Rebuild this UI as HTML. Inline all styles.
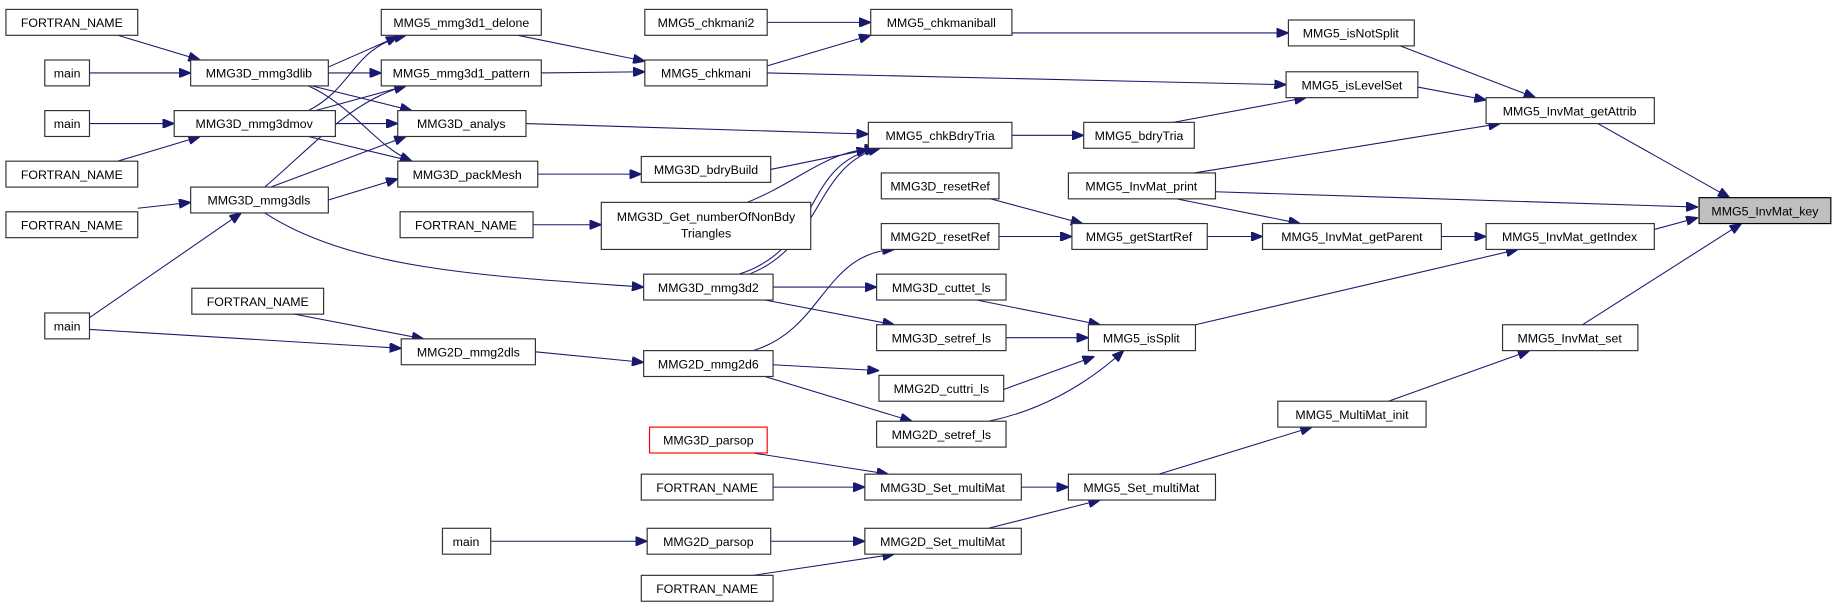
<!DOCTYPE html>
<html><head><meta charset="utf-8"><style>
html,body{margin:0;padding:0;background:#fff;width:1845px;height:611px;overflow:hidden}
svg{display:block}
text{font-family:"Liberation Sans",sans-serif;font-size:10.5px;fill:#000;text-anchor:middle}
rect{fill:#fff;stroke:#333;stroke-width:1}
path{fill:none;stroke:#191970;stroke-width:0.9}
</style></head><body>
<svg width="1845" height="611" viewBox="0 0 1568 519.3" xmlns="http://www.w3.org/2000/svg">
<defs><marker id="a" markerWidth="10" markerHeight="8" refX="10" refY="4" orient="auto" markerUnits="userSpaceOnUse"><polygon points="0,0 10,4 0,8" fill="#191970" stroke="#191970"/></marker></defs>
<g marker-end="url(#a)">
<path d="M100,30 L170,51"/>
<path d="M76,62 L162,62"/>
<path d="M76,105 L148,105"/>
<path d="M100,137 L170,116"/>
<path d="M117,177 L162,172"/>
<path d="M76,270 L205,181"/>
<path d="M76,280 L341,296"/>
<path d="M250,267 L360,288"/>
<path d="M279,57 L338,31"/>
<path d="M279,62 L324,62"/>
<path d="M265,73 L350,94"/>
<path d="M262,73 C300,90 320,125 350,137"/>
<path d="M262,94 C300,75 300,40 345,30"/>
<path d="M268,94 L345,73"/>
<path d="M285,105 L338,105"/>
<path d="M262,116 L350,137"/>
<path d="M225,159 C270,120 300,85 345,73"/>
<path d="M230,159 L345,116"/>
<path d="M279,170 L338,152"/>
<path d="M225,181 C300,230 420,235 547,244"/>
<path d="M440,30 L548,52"/>
<path d="M460,62 L548,61"/>
<path d="M652,19 L740,19"/>
<path d="M652,56 L740,30"/>
<path d="M652,62 L1093,72"/>
<path d="M447,105 L738,114"/>
<path d="M457,148 L545,148"/>
<path d="M655,144 L738,127"/>
<path d="M630,174 C680,155 700,128 745,126"/>
<path d="M628,233 C700,210 680,140 745,126"/>
<path d="M628,236 C700,215 690,140 748,126"/>
<path d="M453,191 L511,191"/>
<path d="M455,299 L547,308"/>
<path d="M657,244 L745,244"/>
<path d="M650,255 L760,276"/>
<path d="M657,310 L747,315"/>
<path d="M650,320 L775,358"/>
<path d="M640,298 C700,280 700,215 760,212"/>
<path d="M842,169 L920,190"/>
<path d="M849,201 L911,201"/>
<path d="M830,255 L935,276"/>
<path d="M855,287 L925,287"/>
<path d="M853,331 L930,303"/>
<path d="M840,358 C880,350 920,330 955,298"/>
<path d="M860,115 L921,115"/>
<path d="M997,104 L1110,83"/>
<path d="M860,28 L1095,28"/>
<path d="M1190,39 L1305,83"/>
<path d="M1205,74 L1263,85"/>
<path d="M1015,147 L1275,105"/>
<path d="M1033,163 L1443,176"/>
<path d="M1000,169 L1105,190"/>
<path d="M1026,201 L1073,201"/>
<path d="M1225,201 L1263,201"/>
<path d="M1016,276 L1290,212"/>
<path d="M1358,105 L1470,168"/>
<path d="M1406,195 L1443,185"/>
<path d="M1345,276 L1480,190"/>
<path d="M1180,341 L1300,298"/>
<path d="M985,403 L1115,363"/>
<path d="M640,385 L755,403"/>
<path d="M657,414 L735,414"/>
<path d="M868,414 L908,414"/>
<path d="M840,449 L935,425"/>
<path d="M417,460 L550,460"/>
<path d="M655,460 L735,460"/>
<path d="M640,489 L760,471"/>
</g>
<g>
<rect x="5" y="8" width="112" height="22"/><text x="61" y="23">FORTRAN_NAME</text>
<rect x="38" y="51" width="38" height="22"/><text x="57" y="66">main</text>
<rect x="38" y="94" width="38" height="22"/><text x="57" y="109">main</text>
<rect x="5" y="137" width="112" height="22"/><text x="61" y="152">FORTRAN_NAME</text>
<rect x="5" y="180" width="112" height="22"/><text x="61" y="195">FORTRAN_NAME</text>
<rect x="38" y="266" width="38" height="22"/><text x="57" y="281">main</text>
<rect x="162" y="51" width="117" height="22"/><text x="220" y="66">MMG3D_mmg3dlib</text>
<rect x="148" y="94" width="137" height="22"/><text x="216" y="109">MMG3D_mmg3dmov</text>
<rect x="162" y="159" width="117" height="22"/><text x="220" y="174">MMG3D_mmg3dls</text>
<rect x="163" y="245" width="112" height="22"/><text x="219" y="260">FORTRAN_NAME</text>
<rect x="341" y="288" width="114" height="22"/><text x="398" y="303">MMG2D_mmg2dls</text>
<rect x="324" y="8" width="136" height="22"/><text x="392" y="23">MMG5_mmg3d1_delone</text>
<rect x="324" y="51" width="136" height="22"/><text x="392" y="66">MMG5_mmg3d1_pattern</text>
<rect x="338" y="94" width="109" height="22"/><text x="392" y="109">MMG3D_analys</text>
<rect x="338" y="137" width="119" height="22"/><text x="397" y="152">MMG3D_packMesh</text>
<rect x="340" y="180" width="113" height="22"/><text x="396" y="195">FORTRAN_NAME</text>
<rect x="548" y="8" width="104" height="22"/><text x="600" y="23">MMG5_chkmani2</text>
<rect x="548" y="51" width="104" height="22"/><text x="600" y="66">MMG5_chkmani</text>
<rect x="545" y="133" width="110" height="22"/><text x="600" y="148">MMG3D_bdryBuild</text>
<rect x="511" y="172" width="178" height="40"/><text x="600" y="188">MMG3D_Get_numberOfNonBdy</text><text x="600" y="202">Triangles</text>
<rect x="547" y="233" width="110" height="22"/><text x="602" y="248">MMG3D_mmg3d2</text>
<rect x="547" y="298" width="110" height="22"/><text x="602" y="313">MMG2D_mmg2d6</text>
<rect x="552" y="363" width="100" height="22" style="stroke:#f00"/><text x="602" y="378">MMG3D_parsop</text>
<rect x="545" y="403" width="112" height="22"/><text x="601" y="418">FORTRAN_NAME</text>
<rect x="376" y="449" width="41" height="22"/><text x="396" y="464">main</text>
<rect x="550" y="449" width="105" height="22"/><text x="602" y="464">MMG2D_parsop</text>
<rect x="545" y="489" width="112" height="22"/><text x="601" y="504">FORTRAN_NAME</text>
<rect x="740" y="8" width="120" height="22"/><text x="800" y="23">MMG5_chkmaniball</text>
<rect x="738" y="104" width="122" height="22"/><text x="799" y="119">MMG5_chkBdryTria</text>
<rect x="749" y="147" width="100" height="22"/><text x="799" y="162">MMG3D_resetRef</text>
<rect x="749" y="190" width="100" height="22"/><text x="799" y="205">MMG2D_resetRef</text>
<rect x="745" y="233" width="110" height="22"/><text x="800" y="248">MMG3D_cuttet_ls</text>
<rect x="745" y="276" width="110" height="22"/><text x="800" y="291">MMG3D_setref_ls</text>
<rect x="747" y="319" width="106" height="22"/><text x="800" y="334">MMG2D_cuttri_ls</text>
<rect x="745" y="358" width="110" height="22"/><text x="800" y="373">MMG2D_setref_ls</text>
<rect x="735" y="403" width="133" height="22"/><text x="801" y="418">MMG3D_Set_multiMat</text>
<rect x="735" y="449" width="133" height="22"/><text x="801" y="464">MMG2D_Set_multiMat</text>
<rect x="921" y="104" width="94" height="22"/><text x="968" y="119">MMG5_bdryTria</text>
<rect x="908" y="147" width="125" height="22"/><text x="970" y="162">MMG5_InvMat_print</text>
<rect x="911" y="190" width="115" height="22"/><text x="968" y="205">MMG5_getStartRef</text>
<rect x="925" y="276" width="91" height="22"/><text x="970" y="291">MMG5_isSplit</text>
<rect x="908" y="403" width="125" height="22"/><text x="970" y="418">MMG5_Set_multiMat</text>
<rect x="1095" y="17" width="107" height="22"/><text x="1148" y="32">MMG5_isNotSplit</text>
<rect x="1093" y="61" width="112" height="22"/><text x="1149" y="76">MMG5_isLevelSet</text>
<rect x="1073" y="190" width="152" height="22"/><text x="1149" y="205">MMG5_InvMat_getParent</text>
<rect x="1086" y="341" width="126" height="22"/><text x="1149" y="356">MMG5_MultiMat_init</text>
<rect x="1263" y="83" width="143" height="22"/><text x="1334" y="98">MMG5_InvMat_getAttrib</text>
<rect x="1263" y="190" width="143" height="22"/><text x="1334" y="205">MMG5_InvMat_getIndex</text>
<rect x="1277" y="276" width="115" height="22"/><text x="1334" y="291">MMG5_InvMat_set</text>
<rect x="1444" y="168" width="112" height="22" style="fill:#bfbfbf;stroke:#000"/><text x="1500" y="183">MMG5_InvMat_key</text>
</g>
</svg>
</body></html>
